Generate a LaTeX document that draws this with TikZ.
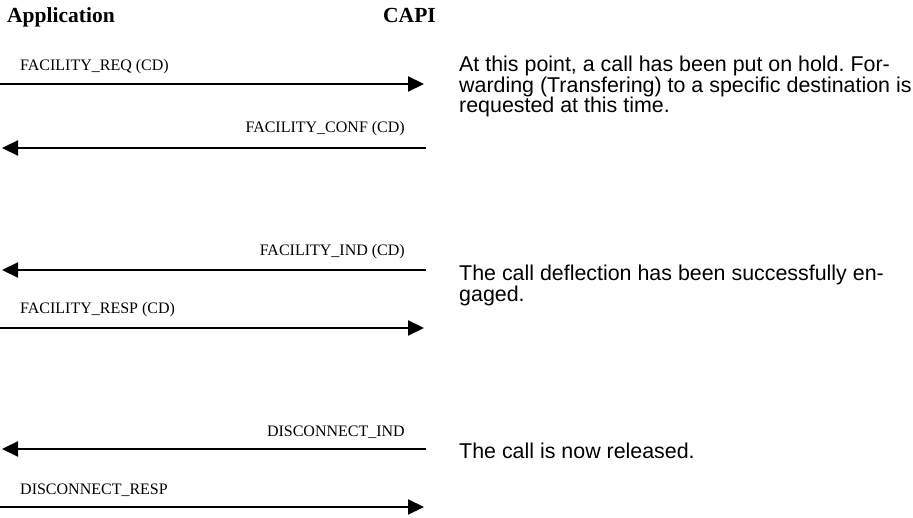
\documentclass[tikz,border=0pt]{standalone}
\usepackage{fontspec}
\setmainfont{Liberation Serif}
\newfontfamily\arialfont{Liberation Sans}
\usetikzlibrary{arrows.meta}
\frenchspacing
\tikzset{
  hdr/.style={anchor=base west, inner sep=0pt, font=\fontsize{21.5}{24}\selectfont\bfseries},
  msg/.style={anchor=base west, inner sep=0pt, font=\fontsize{16}{18}\selectfont},
  msgr/.style={anchor=base east, inner sep=0pt, font=\fontsize{16}{18}\selectfont},
  note/.style={anchor=base west, inner sep=0pt, font=\arialfont\fontsize{21.4}{24}\selectfont},
  sig/.style={line width=2.2pt, -{Triangle[length=16pt,width=15pt]}},
}
\begin{document}
\begin{tikzpicture}[x=1pt,y=-1pt]
\useasboundingbox (0,0) rectangle (913,518);
\node[hdr] (app) at (7,23) {Application};
\node[hdr] (capi) at (383,23) {CAPI};
% endpoints
\coordinate (a1) at (0,84);   \coordinate (c1) at (424,84);
\coordinate (c2) at (426,148); \coordinate (a2) at (2,148);
\coordinate (c3) at (426,270); \coordinate (a3) at (2,270);
\coordinate (a4) at (0,328);  \coordinate (c4) at (424,328);
\coordinate (c5) at (426,449); \coordinate (a5) at (2,449);
\coordinate (a6) at (0,507);  \coordinate (c6) at (424,507);
\draw[sig] (a1) -- (c1);
\draw[sig] (c2) -- (a2);
\draw[sig] (c3) -- (a3);
\draw[sig] (a4) -- (c4);
\draw[sig] (c5) -- (a5);
\draw[sig] (a6) -- (c6);
\node[msg] (l1) at (20,71) {FACILITY\_REQ (CD)};
\node[msgr] (l2) at (405,133) {FACILITY\_CONF (CD)};
\node[msgr] (l3) at (405,256) {FACILITY\_IND (CD)};
\node[msg] (l4) at (20,314) {FACILITY\_RESP (CD)};
\node[msgr] (l5) at (405,436) {DISCONNECT\_IND};
\node[msg] (l6) at (20,494) {DISCONNECT\_RESP};
\node[note] (n1a) at (459,72) {At this point, a call has been put on hold. For-};
\node[note] (n1b) at (459,92.5) {warding (Transfering) to a specific destination is};
\node[note] (n1c) at (459,113) {requested at this time.};
\node[note] (n2a) at (459,281) {The call deflection has been successfully en-};
\node[note] (n2b) at (459,301.5) {gaged.};
\node[note] (n3a) at (459,458) {The call is now released.};
\end{tikzpicture}
\end{document}
